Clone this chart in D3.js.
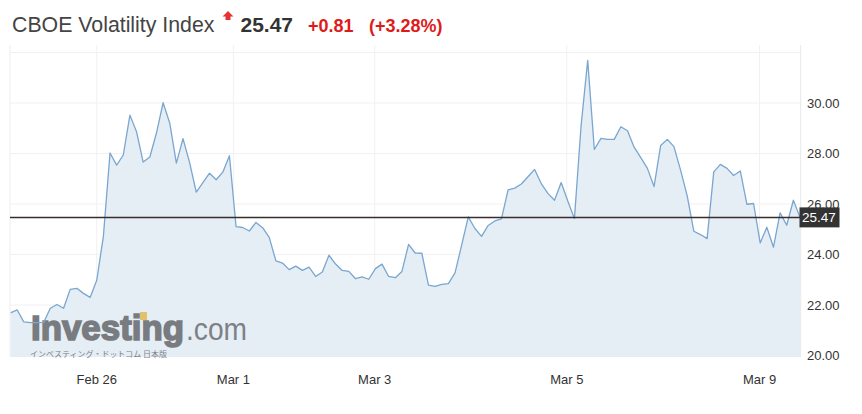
<!DOCTYPE html>
<html><head><meta charset="utf-8">
<script src="https://cdn.jsdelivr.net/npm/d3@7/dist/d3.min.js"></script>
<style>
html,body{margin:0;padding:0;background:#fff;}
svg{display:block;font-family:"Liberation Sans",Arial,sans-serif;}
</style></head>
<body>
<svg id="chart" width="862" height="414"></svg>
<script>
const values = [
21.69,21.81,21.33,21.30,21.30,21.31,21.87,22.02,21.87,22.62,
22.66,22.46,22.30,22.98,24.72,28.02,27.54,27.94,29.52,28.86,
27.66,27.86,28.81,30.01,29.21,27.62,28.59,27.64,26.47,26.85,
27.22,26.96,27.26,27.91,25.10,25.07,24.93,25.27,25.06,24.68,
23.75,23.66,23.40,23.54,23.37,23.50,23.13,23.31,23.97,23.62,
23.37,23.33,23.04,23.11,23.02,23.44,23.62,23.13,23.08,23.33,
24.40,24.06,24.05,22.79,22.74,22.82,22.85,23.27,24.37,25.49,
25.03,24.72,25.15,25.33,25.41,26.56,26.63,26.79,27.08,27.37,
26.81,26.42,26.15,26.85,26.12,25.42,29.09,31.69,28.16,28.60,
28.56,28.56,29.06,28.90,28.25,27.84,27.41,26.69,28.32,28.56,
28.27,27.34,26.32,24.92,24.79,24.63,27.27,27.57,27.41,27.13,
27.31,25.99,26.02,24.46,25.08,24.29,25.65,25.16,26.15,25.47
];
const xTickLabels = ["Feb 26","Mar 1","Mar 3","Mar 5","Mar 9"];
const xTickIndex = [13, 33.6, 54.9, 83.85, 112.9];
const yTicks = [20,22,24,26,28,30];
const yGrid = [20,22,24,26,28,30,32];
const lastValue = 25.47;
const titleText = "CBOE Volatility Index";
const changeText = "+0.81";
const pctText = "(+3.28%)";

(function(){
const svg = d3.select("#chart");
const pL = 10, pR = 800.7, pT = 45, pB = 357;
const x = d3.scaleLinear().domain([0, values.length - 1]).range([10.5, 800]);
const y = d3.scaleLinear().domain([20, 30]).range([355.5, 103]);

// grid
const g = svg.append("g");
g.selectAll(".hg").data(yGrid).enter().append("line")
  .attr("x1", pL).attr("x2", pR)
  .attr("y1", d => y(d)).attr("y2", d => y(d))
  .attr("stroke", "#f1f1f1").attr("stroke-width", 1);
g.selectAll(".vg").data(xTickIndex).enter().append("line")
  .attr("x1", d => x(d)).attr("x2", d => x(d))
  .attr("y1", pT).attr("y2", pB)
  .attr("stroke", "#f1f1f1").attr("stroke-width", 1);

// area + line
const area = d3.area().x((d, i) => x(i)).y0(pB).y1(d => y(d));
const line = d3.line().x((d, i) => x(i)).y(d => y(d));
svg.append("path").datum(values).attr("d", area).attr("fill", "#e5eef5");

// watermark logo
const logo = svg.append("g");
logo.append("text").attr("x", 31).attr("y", 340).attr("font-size", 35).attr("font-weight", "bold")
  .attr("fill", "#787c81").attr("stroke", "#787c81").attr("stroke-width", 1.6)
  .attr("textLength", 153).attr("lengthAdjust", "spacingAndGlyphs").text("Investing");
logo.append("rect").attr("x", 140).attr("y", 312).attr("width", 7).attr("height", 8).attr("fill", "#e3c06e");
logo.append("text").attr("x", 186).attr("y", 340).attr("font-size", 31)
  .attr("fill", "#7d8186")
  .attr("textLength", 61).attr("lengthAdjust", "spacingAndGlyphs").text(".com");
logo.append("text").attr("x", 30).attr("y", 356.5).attr("font-size", 7.5)
  .attr("font-family", "'Noto Sans CJK JP',sans-serif")
  .attr("fill", "#7d8186")
  .attr("textLength", 137).attr("lengthAdjust", "spacingAndGlyphs").text("インベスティング・ドットコム 日本版");

svg.append("path").datum(values).attr("d", line)
  .attr("fill", "none").attr("stroke", "#7aa6cf").attr("stroke-width", 1.3).attr("stroke-linejoin", "round");

// borders
svg.append("line").attr("x1", pL).attr("x2", pL).attr("y1", pT).attr("y2", pB).attr("stroke", "#eeeeee");
svg.append("line").attr("x1", pR).attr("x2", pR).attr("y1", pT).attr("y2", pB).attr("stroke", "#e8e8e8");

// last value line
svg.append("line").attr("x1", pL).attr("x2", pR)
  .attr("y1", y(lastValue)).attr("y2", y(lastValue))
  .attr("stroke", "#3a2c2c").attr("stroke-width", 1.5);

// y axis labels
svg.selectAll(".yl").data(yTicks).enter().append("text")
  .attr("x", 807).attr("y", d => y(d) + 4.5)
  .attr("font-size", 13).attr("fill", "#333").text(d => d3.format(".2f")(d));

// current value badge
svg.append("rect").attr("x", 799.5).attr("y", y(lastValue) - 10).attr("width", 40).attr("height", 20).attr("fill", "#333");
svg.append("text").attr("x", 802).attr("y", y(lastValue) + 5).attr("font-size", 13.5).attr("fill", "#fff")
  .text(d3.format(".2f")(lastValue));

// x labels
svg.selectAll(".xl").data(xTickLabels).enter().append("text")
  .attr("x", (d, i) => x(xTickIndex[i])).attr("y", 384)
  .attr("text-anchor", "middle").attr("font-size", 13).attr("fill", "#333").text(d => d);

// title
svg.append("text").attr("x", 12).attr("y", 31.5).attr("font-size", 21.3).attr("fill", "#444").text(titleText);
svg.append("path").attr("d", "M228,11 L233.5,16.5 L230.5,16.5 L230.5,20 L225.5,20 L225.5,16.5 L222.5,16.5 Z").attr("fill", "#e53333");
svg.append("text").attr("x", 240.5).attr("y", 31.5).attr("font-size", 21).attr("font-weight", "bold").attr("fill", "#333")
  .text(d3.format(".2f")(lastValue));
svg.append("text").attr("x", 308).attr("y", 31.5).attr("font-size", 18).attr("font-weight", "bold").attr("fill", "#de1b1b").text(changeText);
svg.append("text").attr("x", 369).attr("y", 31.5).attr("font-size", 18).attr("font-weight", "bold").attr("fill", "#de1b1b").text(pctText);
})();
</script>
</body></html>
